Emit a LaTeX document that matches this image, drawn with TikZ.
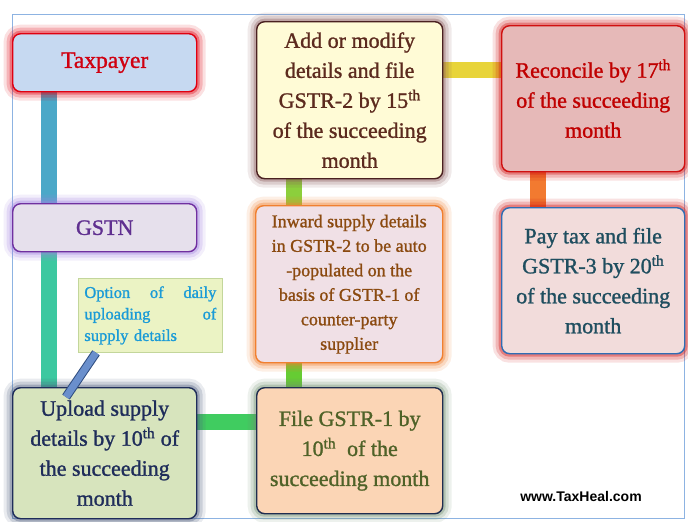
\documentclass[tikz,border=0pt]{standalone}
\usepackage{fontspec}
\setmainfont{Liberation Serif}[FakeBold=1.2]
\newfontfamily\wmfont{Liberation Sans}
\usetikzlibrary{calc,backgrounds}
\definecolor{taxfill}{HTML}{C6D9F1}
\definecolor{taxline}{HTML}{E00010}
\definecolor{taxtext}{HTML}{D00010}
\definecolor{gsfill}{HTML}{E6E0EC}
\definecolor{gsline}{HTML}{7030A0}
\definecolor{gsglow}{HTML}{A080E0}
\definecolor{gstext}{HTML}{603090}
\definecolor{addfill}{HTML}{FFFBD6}
\definecolor{addline}{HTML}{4A2020}
\definecolor{addglow}{HTML}{8B5A5A}
\definecolor{addtext}{HTML}{5C2A1E}
\definecolor{recfill}{HTML}{E6B9B8}
\definecolor{recline}{HTML}{D01010}
\definecolor{rectext}{HTML}{C00000}
\definecolor{payfill}{HTML}{F2DCDB}
\definecolor{payline}{HTML}{2E6DB4}
\definecolor{paytext}{HTML}{1F4E5F}
\definecolor{inwfill}{HTML}{F0E0E6}
\definecolor{inwline}{HTML}{F08030}
\definecolor{inwtext}{HTML}{8B4A10}
\definecolor{filefill}{HTML}{FBD5B5}
\definecolor{fileline}{HTML}{1F2D4F}
\definecolor{fileglow}{HTML}{6F8F6F}
\definecolor{filetext}{HTML}{4F6228}
\definecolor{uplfill}{HTML}{D7E4BD}
\definecolor{uplline}{HTML}{1F2D5A}
\definecolor{uplglow}{HTML}{4F5F7F}
\definecolor{upltext}{HTML}{1F2D5A}
\definecolor{optfill}{HTML}{EBF3C4}
\definecolor{optline}{HTML}{C3D69B}
\definecolor{opttext}{HTML}{1A9BD7}
\definecolor{framecol}{HTML}{8DB3E2}
\definecolor{cTG}{HTML}{4BA8C8}
\definecolor{cGU}{HTML}{3CC8A0}
\definecolor{cYel}{HTML}{E8D43A}
\definecolor{cOra}{HTML}{F27A30}
\definecolor{cAI}{HTML}{8CCF3C}
\definecolor{cIF}{HTML}{66CC33}
\definecolor{cUF}{HTML}{40CC60}
\definecolor{ptcol}{HTML}{6A8FCC}
\definecolor{ptedge}{HTML}{2F4D80}
\begin{document}
\begin{tikzpicture}[x=1pt,y=-1pt,
  glow/.style={preaction={draw=#1,line width=18pt,opacity=0.12},
               preaction={draw=#1,line width=12pt,opacity=0.2},
               preaction={draw=#1,line width=6pt,opacity=0.35}},
  box/.style={rectangle,rounded corners=8pt,anchor=north west,inner sep=2pt,
              line width=1.4pt,align=center,
              font=\fontsize{22}{30}\selectfont},
  bar/.style={line width=16pt,line cap=butt},
  pointer/.style={draw=ptcol,line width=7pt,
                  preaction={draw=ptedge,line width=9pt}}]
\useasboundingbox (0,0) rectangle (688,522);

\node[box,glow=taxline,fill=taxfill,draw=taxline,text=taxtext,
      font=\fontsize{23.5}{30}\selectfont,
      minimum width=184pt,minimum height=58pt] (tax) at (12,33) {Taxpayer};
\node[box,glow=gsglow,fill=gsfill,draw=gsline,text=gstext,
      minimum width=184pt,minimum height=48pt] (gstn) at (12,203) {GSTN};
\node[box,glow=addglow,fill=addfill,draw=addline,text=addtext,
      minimum width=186pt,minimum height=157pt] (add) at (256,21)
  {Add or modify\\details and file\\GSTR-2 by 15\textsuperscript{th}\\of the succeeding\\month};
\node[box,glow=recline,fill=recfill,draw=recline,text=rectext,
      minimum width=183pt,minimum height=146pt] (rec) at (501,25)
  {Reconcile by 17\textsuperscript{th}\\of the succeeding\\month};
\node[box,glow=recline,fill=payfill,draw=payline,text=paytext,
      minimum width=183pt,minimum height=146pt] (pay) at (501,207)
  {Pay tax and file\\GSTR-3 by 20\textsuperscript{th}\\of the succeeding\\month};
\node[box,glow=inwline,fill=inwfill,draw=inwline,text=inwtext,
      font=\fontsize{18}{24.5}\selectfont,
      minimum width=187pt,minimum height=157pt] (inw) at (255,205)
  {Inward supply details\\in GSTR-2 to be auto\\-populated on the\\basis of GSTR-1 of\\counter-party\\supplier};
\node[box,glow=fileglow,fill=filefill,draw=fileline,text=filetext,
      minimum width=186pt,minimum height=126pt] (file) at (256,387)
  {File GSTR-1 by\\10\textsuperscript{th}\ \ of the\\succeeding month};
\node[box,glow=uplglow,fill=uplfill,draw=uplline,text=upltext,
      minimum width=184pt,minimum height=131pt] (upl) at (12,387)
  {Upload supply\\details by 10\textsuperscript{th} of\\the succeeding\\month};
\node[rectangle,anchor=north west,fill=optfill,draw=optline,line width=0.8pt,
      text=opttext,font=\fontsize{16.5}{21.5}\selectfont,
      text width=132pt,align=left,inner sep=5pt,
      minimum width=144pt,minimum height=74pt] (opt) at (78,278)
  {Option \hfill of \hfill daily\\uploading \hfill of\\supply details};

\node[font=\wmfont\bfseries\fontsize{14}{16}\selectfont,text=black] (wm) at (581,496) {www.TaxHeal.com};

\coordinate (xTG) at (49,0);
\coordinate (yAR) at (0,70);
\coordinate (xRP) at (538,0);
\coordinate (xAF) at (294,0);
\coordinate (yUF) at (0,422);
\coordinate (xPt) at (96,0);
\coordinate (ptip) at (66,397);

\begin{pgfonlayer}{background}
  \fill[white] (0,0) rectangle (688,522);
  \draw[framecol,line width=0.8pt] (12,14) rectangle (684,518);
  \draw[bar,cTG] (tax.south -| xTG) -- (gstn.north -| xTG);
  \draw[bar,cGU] (gstn.south -| xTG) -- (upl.north -| xTG);
  \draw[bar,cYel] (add.east |- yAR) -- (rec.west |- yAR);
  \draw[bar,cOra] (rec.south -| xRP) -- (pay.north -| xRP);
  \draw[bar,cAI] (add.south -| xAF) -- (inw.north -| xAF);
  \draw[bar,cIF] (inw.south -| xAF) -- (file.north -| xAF);
  \draw[bar,cUF] (upl.east |- yUF) -- (file.west |- yUF);
\end{pgfonlayer}

\draw[pointer] (opt.south -| xPt) -- (ptip);
\end{tikzpicture}
\end{document}
